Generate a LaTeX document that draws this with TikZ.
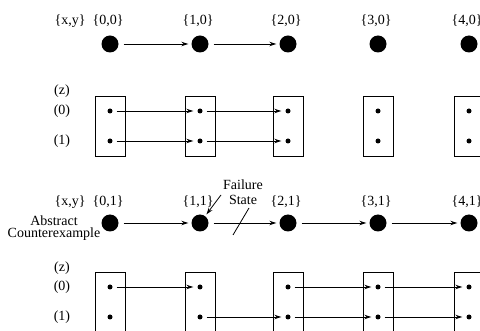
\documentclass[tikz,border=0pt]{standalone}
\usepackage{fontspec}
\setmainfont{Liberation Serif}
\usetikzlibrary{arrows.meta}
\begin{document}
\begin{tikzpicture}[x=1pt,y=-1pt,
  every node/.style={font=\fontsize{14}{12}\selectfont},
  bigdot/.style={circle,fill=black,minimum size=17pt,inner sep=0pt},
  smalldot/.style={circle,fill=black,minimum size=5pt,inner sep=0pt},
  statebox/.style={draw,line width=0.9pt,minimum width=30pt,minimum height=60pt,inner sep=0pt},
  lab/.style={inner sep=0pt,anchor=center},
  conn/.style={line width=0.8pt,-{Stealth[length=7pt,width=4.5pt]}},
  bigconn/.style={conn,shorten <=5pt,shorten >=3pt},
  smallconn/.style={conn,shorten <=4pt,shorten >=4pt}]
\useasboundingbox (0,0) rectangle (480,331);
\clip (0,0) rectangle (480,331);
% ---------- top half ----------
\node[lab] (xy0) at (70,21) {\{x,y\}};
\foreach \i/\x in {0/110,1/200,2/288,3/378,4/469}{
  \node[lab] (l\i0) at (\x-2,21) {\{\i,0\}};
  \node[bigdot] (d\i0) at (\x,44) {};
  \node[statebox] (b\i0) at (\x,126) {};
  \node[smalldot] (p\i0a) at (\x,111) {};
  \node[smalldot] (p\i0b) at (\x,141) {};
}
\node[lab] (z0) at (62,91) {(z)};
\node[lab] (r00) at (62,111) {(0)};
\node[lab] (r10) at (62,141) {(1)};
\draw[bigconn] (d00) -- (d10);
\draw[bigconn] (d10) -- (d20);
\draw[smallconn] (p00a) -- (p10a);
\draw[smallconn] (p00b) -- (p10b);
\draw[smallconn] (p10a) -- (p20a);
\draw[smallconn] (p10b) -- (p20b);
% ---------- bottom half ----------
\node[lab] (xy1) at (70,202) {\{x,y\}};
\foreach \i/\x in {0/110,1/200,2/288,3/378,4/469}{
  \node[lab] (l\i1) at (\x-2,202) {\{\i,1\}};
  \node[bigdot] (d\i1) at (\x,223) {};
  \node[statebox] (b\i1) at (\x,302) {};
  \node[smalldot] (p\i1a) at (\x,287) {};
  \node[smalldot] (p\i1b) at (\x,317) {};
}
\node[lab] (z1) at (62,268) {(z)};
\node[lab] (r01) at (62,287) {(0)};
\node[lab] (r11) at (62,317) {(1)};
\node[lab,align=center,font=\fontsize{14}{12.5}\selectfont] (abs) at (54,228) {Abstract\\Counterexample};
\node[lab,align=center,font=\fontsize{14}{15}\selectfont] (fail) at (243,192) {Failure\\State};
\draw[bigconn] (d01) -- (d11);
\draw[bigconn] (d11) -- (d21);
\draw[bigconn] (d21) -- (d31);
\draw[bigconn] (d31) -- (d41);
\coordinate (fs0) at (221,195);
\draw[conn,shorten >=2pt] (fs0) -- (d11);
\coordinate (cutA) at (249,208);
\coordinate (cutB) at (233,235);
\draw[line width=0.8pt] (cutA) -- (cutB);
\draw[smallconn] (p01a) -- (p11a);
\draw[smallconn] (p11b) -- (p21b);
\draw[smallconn] (p21a) -- (p31a);
\draw[smallconn] (p21b) -- (p31b);
\draw[smallconn] (p31a) -- (p41a);
\draw[smallconn] (p31b) -- (p41b);
\end{tikzpicture}
\end{document}
